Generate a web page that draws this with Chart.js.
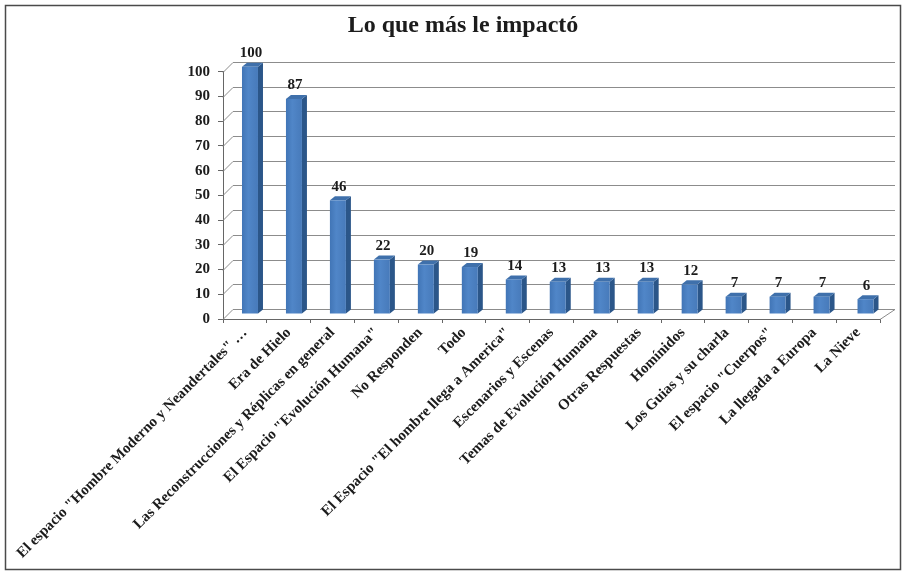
<!DOCTYPE html>
<html>
<head>
<meta charset="utf-8">
<title>Lo que más le impactó</title>
<script src="https://cdn.jsdelivr.net/npm/chart.js@4.4.1/dist/chart.umd.min.js"></script>
<style>
    html, body { margin: 0; padding: 0; background: #fff; }
    #wrap { width: 907px; height: 577px; }
</style>
</head>
<body>
<div id="wrap"><canvas id="impactChart" width="907" height="577"></canvas></div>
<script>
// Data
const chartTitle = 'Lo que más le impactó';
const categories = [
    'El espacio "Hombre Moderno y Neandertales" …',
    'Era de Hielo',
    'Las Reconstrucciones y Réplicas en general',
    'El Espacio "Evolución Humana"',
    'No Responden',
    'Todo',
    'El Espacio "El hombre llega a America"',
    'Escenarios y Escenas',
    'Temas de Evolución Humana',
    'Otras Respuestas',
    'Homínidos',
    'Los Guias y su charla',
    'El espacio "Cuerpos"',
    'La llegada a Europa',
    'La Nieve'
];
const counts = [100, 87, 46, 22, 20, 19, 14, 13, 13, 13, 12, 7, 7, 7, 6];
const yTicks = [0, 10, 20, 30, 40, 50, 60, 70, 80, 90, 100];

const serif = '"Liberation Serif", "DejaVu Serif", serif';
const textColor = '#1c1c1c';
const gridColor = '#8c8c8c';

// 3D look: back wall offset (wider on the right, like the perspective in the original)
const depthLeft = 10;
const depthRight = 15;
const depthY = -10;
const barDepthX = 5;
const barDepthY = -4;

function wallDx(area, x) {
    return depthLeft + (depthRight - depthLeft) * (x - area.left) / (area.right - area.left);
}

const walls3d = {
    id: 'walls3d',
    beforeDraw(chart) {
        const ctx = chart.ctx;
        ctx.save();
        ctx.fillStyle = '#fff';
        ctx.fillRect(0, 0, chart.width, chart.height);
        ctx.restore();
    },
    beforeDatasetsDraw(chart) {
        const { ctx, chartArea: a, scales } = chart;
        ctx.save();
        ctx.strokeStyle = gridColor;
        ctx.lineWidth = 1;
        yTicks.forEach(v => {
            const y = Math.round(scales.y.getPixelForValue(v)) + 0.5;
            ctx.beginPath();
            ctx.moveTo(a.left, y);
            ctx.lineTo(a.left + depthLeft, y + depthY);
            ctx.lineTo(a.right + depthRight, y + depthY);
            ctx.stroke();
        });
        // right edge of the floor
        const yb = Math.round(a.bottom) + 0.5;
        ctx.beginPath();
        ctx.moveTo(a.right, yb);
        ctx.lineTo(a.right + depthRight, yb + depthY);
        ctx.stroke();
        ctx.restore();
    },
    afterDatasetsDraw(chart) {
        const { ctx, chartArea: a } = chart;
        const meta = chart.getDatasetMeta(0);
        ctx.save();
        meta.data.forEach((bar, i) => {
            const ox = wallDx(a, bar.x) / 2;
            const oy = depthY / 2;
            const xl = bar.x - bar.width / 2 + ox;
            const xr = bar.x + bar.width / 2 + ox;
            const yt = bar.y + oy;
            const yb = bar.base + oy;

            // side face
            ctx.fillStyle = '#2b5689';
            ctx.beginPath();
            ctx.moveTo(xr, yt);
            ctx.lineTo(xr + barDepthX, yt + barDepthY);
            ctx.lineTo(xr + barDepthX, yb + barDepthY);
            ctx.lineTo(xr, yb);
            ctx.closePath();
            ctx.fill();

            // top face
            ctx.fillStyle = '#3f70ab';
            ctx.beginPath();
            ctx.moveTo(xl, yt);
            ctx.lineTo(xl + barDepthX, yt + barDepthY);
            ctx.lineTo(xr + barDepthX, yt + barDepthY);
            ctx.lineTo(xr, yt);
            ctx.closePath();
            ctx.fill();

            // front face
            const grad = ctx.createLinearGradient(xl, 0, xr, 0);
            grad.addColorStop(0, '#4175b6');
            grad.addColorStop(0.4, '#5086c8');
            grad.addColorStop(1, '#477aba');
            ctx.fillStyle = grad;
            ctx.fillRect(xl, yt, xr - xl, yb - yt);

            // value label
            ctx.fillStyle = textColor;
            ctx.font = 'bold 15px ' + serif;
            ctx.textAlign = 'center';
            ctx.textBaseline = 'bottom';
            ctx.fillText(String(counts[i]), (xl + xr) / 2 + 1, yt + barDepthY - 2);
        });
        ctx.restore();
    },
    afterDraw(chart) {
        const ctx = chart.ctx;
        ctx.save();
        ctx.strokeStyle = '#4a4a4a';
        ctx.lineWidth = 1.5;
        ctx.strokeRect(5.5, 5.5, 895, 564);
        ctx.restore();
    }
};

new Chart(document.getElementById('impactChart'), {
    type: 'bar',
    data: {
        labels: categories,
        datasets: [{
            label: 'Respuestas',
            data: counts,
            backgroundColor: 'rgba(0,0,0,0)',
            borderWidth: 0,
            barPercentage: 0.365,
            categoryPercentage: 1
        }]
    },
    options: {
        responsive: false,
        animation: false,
        layout: {
            // left padding centres the title where the original has it
            padding: { top: 6, right: 27, bottom: 0, left: 46 }
        },
        plugins: {
            legend: { display: false },
            tooltip: { enabled: false },
            title: {
                display: true,
                text: chartTitle,
                color: textColor,
                font: { family: serif, size: 24, weight: 'bold' },
                padding: { top: 5, bottom: 32 }
            }
        },
        scales: {
            x: {
                offset: true,
                grid: {
                    display: true,
                    drawOnChartArea: false,
                    drawTicks: true,
                    tickLength: 4,
                    offset: true,
                    color: '#666'
                },
                border: { display: true, color: '#666', width: 1 },
                ticks: {
                    autoSkip: false,
                    maxRotation: 45,
                    minRotation: 45,
                    padding: 1,
                    color: textColor,
                    font: { family: serif, size: 15, weight: 'bold' }
                },
                afterFit(scale) {
                    // keep the plot area fixed; long rotated labels may run into the left margin
                    scale.height = 258;
                    scale.paddingLeft = 0;
                    scale.paddingRight = 0;
                }
            },
            y: {
                min: 0,
                max: 100,
                afterBuildTicks(scale) {
                    scale.ticks = yTicks.map(v => ({ value: v }));
                },
                grid: {
                    display: true,
                    drawOnChartArea: false,
                    drawTicks: true,
                    tickLength: 5,
                    color: '#666'
                },
                border: { display: true, color: '#666', width: 1 },
                ticks: {
                    padding: 8,
                    color: textColor,
                    font: { family: serif, size: 15, weight: 'bold' }
                },
                afterFit(scale) {
                    scale.width = 177;
                }
            }
        }
    },
    plugins: [walls3d]
});
</script>
</body>
</html>
